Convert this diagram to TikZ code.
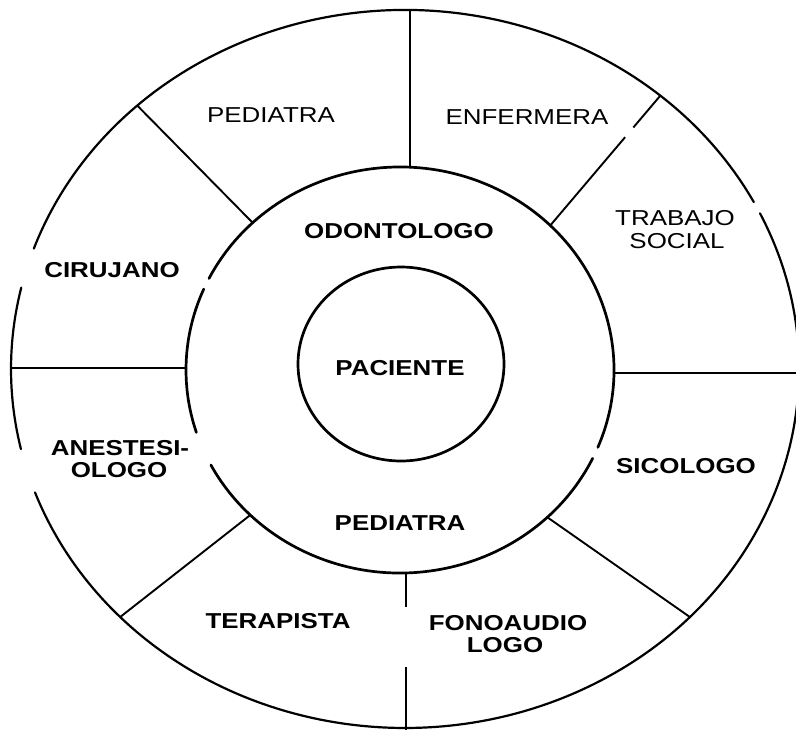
\documentclass[tikz,border=0pt]{standalone}
\usepackage{fontspec}
\setmainfont{Liberation Sans}
\newfontfamily\lblfont[FakeStretch=1.2]{Liberation Sans}
\usetikzlibrary{calc}
\begin{document}
\begin{tikzpicture}[x=1pt,y=-1pt,
  ring/.style={line width=2.2pt, line cap=round},
  midring/.style={line width=2.7pt, line cap=round},
  sep/.style={line width=1.9pt},
  lbl/.style={font=\lblfont\fontsize{21.6}{24}\selectfont, inner sep=0pt, anchor=base},
  blbl/.style={font=\lblfont\bfseries\fontsize{21.6}{24}\selectfont, inner sep=0pt, anchor=base}]
\fill[white] (0,0) rectangle (796,729);
\useasboundingbox (0,0) rectangle (796,729);
\begin{scope}
\clip (0,0) rectangle (796,729);
\coordinate (OC) at (405,369);
\coordinate (MC) at (400,370);
\coordinate (IC) at (401,364);
% outer ring (with gaps)
\draw[ring] (OC) ++(167.1:394 and 359) arc[start angle=167.1, end angle=193.1, x radius=394, y radius=359];
\draw[ring] (OC) ++(199.6:394 and 359) arc[start angle=199.6, end angle=332.3, x radius=394, y radius=359];
\draw[ring] (OC) ++(334.3:394 and 359) arc[start angle=334.3, end angle=519.9, x radius=394, y radius=359];
% middle ring (with gaps)
\draw[midring] (MC) ++(25.8:214 and 203) arc[start angle=25.8, end angle=152.1, x radius=214, y radius=203];
\draw[midring] (MC) ++(162.1:214 and 203) arc[start angle=162.1, end angle=203.5, x radius=214, y radius=203];
\draw[midring] (MC) ++(206.8:214 and 203) arc[start angle=206.8, end angle=382.4, x radius=214, y radius=203];
% inner ring
\draw[midring] (IC) ellipse[x radius=103, y radius=97];
% separator end points
\path (OC) ++(227.2:394 and 359) coordinate (o1);
\path (MC) ++(226.5:214 and 203) coordinate (m1);
\coordinate (o2) at (410,10);
\coordinate (m2) at (410,167.2);
\path (OC) ++(310.4:394 and 359) coordinate (o3);
\path (MC) ++(314.6:214 and 203) coordinate (m3);
\coordinate (m4) at (614,373);
\coordinate (e4) at (800,373);
\path (MC) ++(46.5:214 and 203) coordinate (m5);
\path (OC) ++(43.7:394 and 359) coordinate (o5);
\coordinate (m6) at (406,572.5);
\coordinate (g6a) at (406,607);
\coordinate (g6b) at (406,667);
\coordinate (e6) at (406,735);
\path (MC) ++(134.4:214 and 203) coordinate (m7);
\path (OC) ++(136.3:394 and 359) coordinate (o7);
\coordinate (o8) at (11,368);
\coordinate (m8) at (186,368);
% separators
\draw[sep] (o1) -- (m1);
\draw[sep] (o2) -- (m2);
\draw[sep] (m3) -- ($(m3)!0.68!(o3)$);
\draw[sep] ($(m3)!0.755!(o3)$) -- (o3);
\draw[sep] (m4) -- (e4);
\draw[sep] (m5) -- (o5);
\draw[sep] (m6) -- (g6a);
\draw[sep] (g6b) -- (e6);
\draw[sep] (m7) -- (o7);
\draw[sep] (o8) -- (m8);
\end{scope}
% labels
\node[lbl] (ped1) at (271,122) {PEDIATRA};
\node[lbl] (enf) at (527,124) {ENFERMERA};
\node[lbl] (trab) at (675,225) {TRABAJO};
\node[lbl] (soc) at (677,248) {SOCIAL};
\node[blbl] (ciru) at (112,277) {CIRUJANO};
\node[blbl] (odon) at (399,238) {ODONTOLOGO};
\node[blbl] (pac) at (400,375) {PACIENTE};
\node[blbl] (anes) at (120,455) {ANESTESI-};
\node[blbl] (olog) at (119,477) {OLOGO};
\node[blbl] (ped2) at (400,530) {PEDIATRA};
\node[blbl] (sico) at (686,473) {SICOLOGO};
\node[blbl] (tera) at (278,628) {TERAPISTA};
\node[blbl] (fono) at (508,630) {FONOAUDIO};
\node[blbl] (logo) at (505,652) {LOGO};
\end{tikzpicture}
\end{document}
